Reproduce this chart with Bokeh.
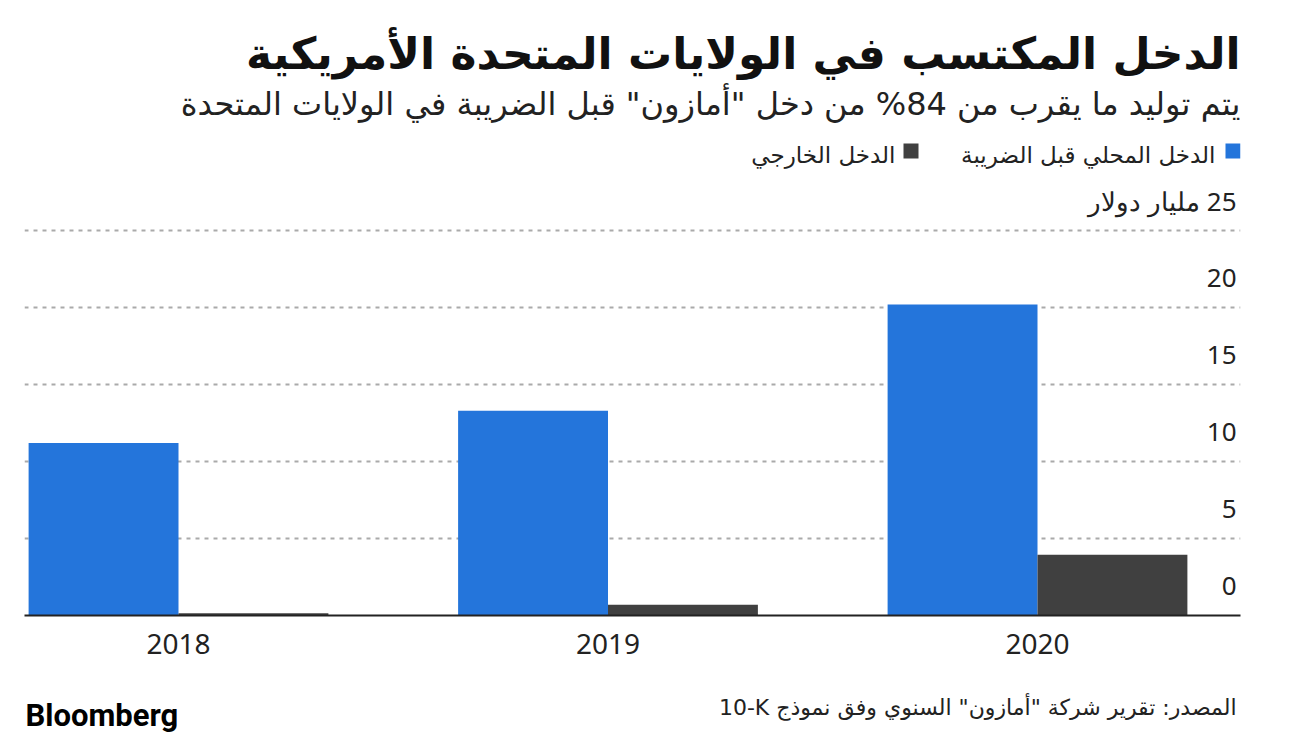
from bokeh.plotting import figure
from bokeh.layouts import column
from bokeh.models import Range1d, FixedTicker
from bokeh.core.properties import value
from bokeh.embed import file_html
from bokeh.resources import INLINE

# ---- data ----
years = ["2018", "2019", "2020"]
domestic = [11.2, 13.3, 20.2]      # الدخل المحلي قبل الضريبة (billion $)
foreign = [0.15, 0.7, 3.95]        # الدخل الخارجي
y_ticks = [0, 5, 10, 15, 20, 25]
y_tick_labels = ["0", "5", "10", "15", "20", "\u206725 مليار دولار\u2069"]

title_text = "الدخل المكتسب في الولايات المتحدة الأمريكية"
subtitle_text = "يتم توليد ما يقرب من 84% من دخل \"أمازون\" قبل الضريبة في الولايات المتحدة"
legend_labels = ["الدخل المحلي قبل الضريبة", "الدخل الخارجي"]
source_text = "\u2067المصدر: تقرير شركة \"أمازون\" السنوي وفق نموذج \u206610-K\u2069\u2069"

BLUE = "#2475DB"
DARK = "#404040"
AR_FONT = "DejaVu Sans"
NUM_FONT = "Noto Sans"

W = 1295
FL, FR = 24, 1240                 # frame left/right (page px), shared by all panels
H_HEAD, H_MAIN, H_FOOT = 178, 502, 58
MAIN_TOP = H_HEAD
BASE = 615                        # page y of value 0
PX_PER_UNIT = 15.4
CAT_STEP = 429.5                  # px between category centres
CAT0 = 178                        # page x of first category centre


def panel(height):
    """Text panel whose data units are page pixels (x) and pixels from bottom (y)."""
    f = figure(width=W, height=height, x_range=Range1d(FL, FR), y_range=Range1d(0, height),
               output_backend="svg", toolbar_location=None,
               min_border_left=FL, min_border_right=W - FR, min_border_top=0, min_border_bottom=0)
    f.axis.visible = False
    f.grid.visible = False
    f.outline_line_color = None
    f.background_fill_color = "white"
    f.border_fill_color = "white"
    return f


def txt(f, top, px, py, text, size, font=AR_FONT, align="right", style="normal", color="#222222"):
    f.text(x=[px], y=[top - py], text=[text], text_align=align, text_baseline="alphabetic",
           text_font=value(font), text_font_style=style, text_font_size=size, text_color=color)


# ---- header: title, subtitle, legend ----
hdr = panel(H_HEAD)
txt(hdr, H_HEAD, 1240, 53, title_text, "44px", style="bold", color="#111111")
txt(hdr, H_HEAD, 1240, 103, subtitle_text, "32px")
hdr.rect(x=[1232.5, 910.5], y=[H_HEAD - 150.5] * 2, width=15, height=15,
         fill_color=[BLUE, DARK], line_color=None)
txt(hdr, H_HEAD, 1215, 154, legend_labels[0], "23px")
txt(hdr, H_HEAD, 895, 154, legend_labels[1], "23px")

# ---- main chart ----
X0 = (FL - CAT0) / CAT_STEP
X1 = (FR - CAT0) / CAT_STEP
Y1 = (BASE - MAIN_TOP) / PX_PER_UNIT
p = figure(width=W, height=H_MAIN, x_range=Range1d(X0, X1), y_range=Range1d(0, Y1),
           output_backend="svg", toolbar_location=None,
           min_border_left=FL, min_border_right=W - FR,
           min_border_top=0, min_border_bottom=MAIN_TOP + H_MAIN - BASE)
p.outline_line_color = None
p.background_fill_color = "white"
p.border_fill_color = "white"

idx = list(range(len(years)))
bw = 0.349
p.vbar(x=[i - bw / 2 for i in idx], top=domestic, width=bw, bottom=0, fill_color=BLUE, line_color=None)
p.vbar(x=[i + bw / 2 for i in idx], top=foreign, width=bw, bottom=0, fill_color=DARK, line_color=None)

p.xaxis.ticker = FixedTicker(ticks=idx)
p.xaxis.major_label_overrides = {i: y for i, y in zip(idx, years)}
p.xaxis.axis_line_color = "#222222"
p.xaxis.axis_line_width = 2
p.xaxis.major_tick_line_color = None
p.xaxis.minor_tick_line_color = None
p.xaxis.major_label_text_font = NUM_FONT
p.xaxis.major_label_text_font_size = "28px"
p.xaxis.major_label_text_color = "#222222"
p.xaxis.major_label_standoff = 12

p.yaxis.visible = False
p.xgrid.visible = False
p.ygrid.ticker = FixedTicker(ticks=y_ticks[1:])
p.ygrid.grid_line_color = "#aaaaaa"
p.ygrid.grid_line_width = 2
p.ygrid.grid_line_dash = "4 5"

p.text(x=[X1] * len(y_ticks), y=y_ticks, text=y_tick_labels, text_align="right",
       text_baseline="alphabetic", x_offset=-4, y_offset=-30, text_font=value(NUM_FONT),
       text_font_size="26px", text_color="#222222")

# ---- footer ----
FOOT_TOP = MAIN_TOP + H_MAIN
ftr = panel(H_FOOT)
txt(ftr, FOOT_TOP + H_FOOT, 1236, 707, source_text, "22px")
txt(ftr, FOOT_TOP + H_FOOT, 25, 715, "Bloomberg", "31px", font="Roboto", align="left",
    style="bold", color="#000000")

layout = column(hdr, p, ftr, spacing=0)
open("out.html", "w").write(file_html(layout, INLINE))
